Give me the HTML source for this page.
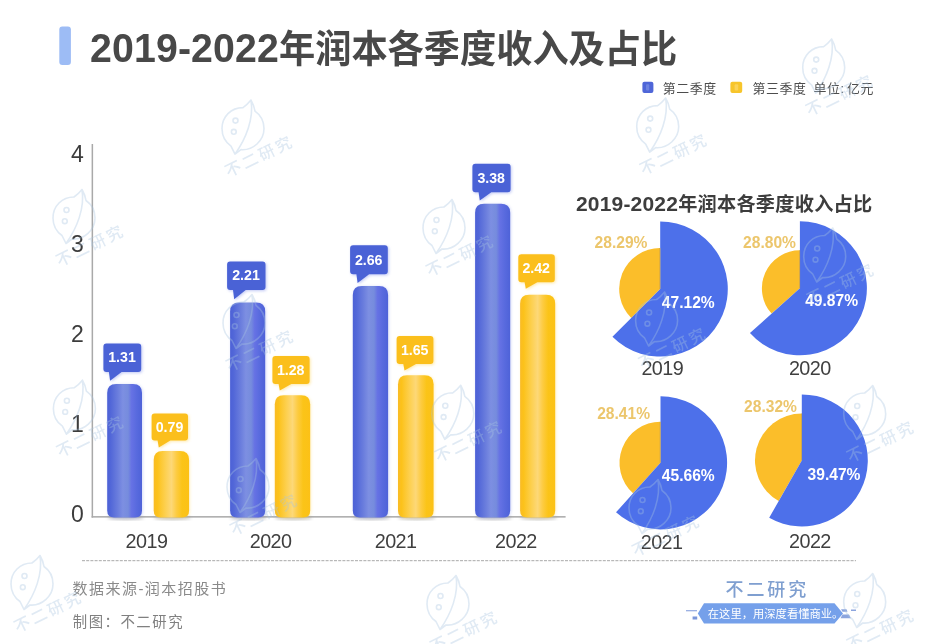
<!DOCTYPE html>
<html lang="zh-CN"><head><meta charset="utf-8"><title>2019-2022年润本各季度收入及占比</title>
<style>
html,body{margin:0;padding:0;background:#fff;}
body{width:940px;height:644px;overflow:hidden;position:relative;font-family:'Liberation Sans','Noto Sans CJK SC',sans-serif;}
svg{display:block;position:absolute;left:0;top:0;}
text{font-family:'Liberation Sans','Noto Sans CJK SC',sans-serif;}
.b{font-weight:bold;}
</style></head><body>
<svg width="940" height="644" viewBox="0 0 940 644">
<defs>
<linearGradient id="gb" x1="0" y1="0" x2="1" y2="0">
<stop offset="0" stop-color="#4c61d6"/><stop offset="0.1" stop-color="#5267d8"/><stop offset="0.3" stop-color="#6a7ddd"/><stop offset="0.45" stop-color="#7d8fe2"/><stop offset="0.6" stop-color="#768cdd"/><stop offset="0.7" stop-color="#6672e4"/><stop offset="0.85" stop-color="#586ade"/><stop offset="1" stop-color="#4e62d8"/>
</linearGradient>
<linearGradient id="gy" x1="0" y1="0" x2="1" y2="0">
<stop offset="0" stop-color="#f9bb26"/><stop offset="0.1" stop-color="#fcc21a"/><stop offset="0.33" stop-color="#fdd050"/><stop offset="0.5" stop-color="#fdd878"/><stop offset="0.65" stop-color="#fdcb40"/><stop offset="0.8" stop-color="#fbc418"/><stop offset="1" stop-color="#fcc116"/>
</linearGradient>
<filter id="gl" x="-30%" y="-10%" width="160%" height="120%"><feGaussianBlur stdDeviation="1.4"/></filter>
<filter id="sh" x="-30%" y="-10%" width="160%" height="120%"><feGaussianBlur stdDeviation="1.6"/></filter>
</defs>
<rect width="940" height="644" fill="#ffffff"/>

<rect x="59.3" y="26.6" width="11.6" height="38.5" rx="3" fill="#9dbcf5"/>
<text class="b" transform="translate(90,61.7) scale(0.958,1)" font-size="37.8" fill="#484848"><tspan font-size="41" letter-spacing="0.15">2019-2022</tspan>年润本各季度收入及占比</text>
<rect x="642.4" y="81.8" width="11" height="11.2" rx="2" fill="#4f66d8"/>
<rect x="646" y="84.2" width="3.2" height="6.4" rx="1" fill="#7388e2" opacity="0.85"/>
<text x="662.8" y="92.6" font-size="12.9" letter-spacing="0.6" fill="#4d4d4d">第二季度</text>
<rect x="730.4" y="81.8" width="11.8" height="11.2" rx="2" fill="#f7c52b"/>
<rect x="734.6" y="84.2" width="3.6" height="6.4" rx="1" fill="#fbd45e" opacity="0.9"/>
<text x="752.6" y="92.6" font-size="12.9" letter-spacing="0.6" fill="#4d4d4d">第三季度 <tspan x="813.6">单位:</tspan> <tspan x="847">亿元</tspan></text>
<rect x="91.6" y="144" width="1.5" height="373.6" fill="#a9a9a9"/>
<rect x="91.6" y="516.1" width="474" height="1.5" fill="#a9a9a9"/>
<text x="77.5" y="161.6" font-size="23" fill="#3c3c3c" text-anchor="middle">4</text>
<text x="77.5" y="251.6" font-size="23" fill="#3c3c3c" text-anchor="middle">3</text>
<text x="77.5" y="341.6" font-size="23" fill="#3c3c3c" text-anchor="middle">2</text>
<text x="77.5" y="431.6" font-size="23" fill="#3c3c3c" text-anchor="middle">1</text>
<text x="77.5" y="521.6" font-size="23" fill="#3c3c3c" text-anchor="middle">0</text>
<ellipse cx="125.6" cy="518.0" rx="18.4" ry="2.2" fill="#8f8f8f" opacity="0.45" filter="url(#sh)"/>
<path d="M107.2,510.5 V392.9 Q107.2,383.9 116.2,383.9 H133.0 Q142.0,383.9 142.0,392.9 V510.5 Q142.0,517.5 135.0,517.5 H114.2 Q107.2,517.5 107.2,510.5 Z" fill="#7f90ea" opacity="0.35" filter="url(#gl)" transform="translate(0.8,0.5)"/>
<path d="M107.2,510.5 V392.9 Q107.2,383.9 116.2,383.9 H133.0 Q142.0,383.9 142.0,392.9 V510.5 Q142.0,517.5 135.0,517.5 H114.2 Q107.2,517.5 107.2,510.5 Z" fill="url(#gb)"/>
<path d="M106.4,343.4 H138.2 Q141.2,343.4 141.2,346.4 V369.0 Q141.2,372.0 138.2,372.0 H121.6 L110.1,380.7 L108.9,372.0 H106.4 Q103.4,372.0 103.4,369.0 V346.4 Q103.4,343.4 106.4,343.4 Z" fill="#8f9cec" opacity="0.55" filter="url(#gl)" transform="translate(1,1)"/>
<path d="M106.4,343.4 H138.2 Q141.2,343.4 141.2,346.4 V369.0 Q141.2,372.0 138.2,372.0 H121.6 L110.1,380.7 L108.9,372.0 H106.4 Q103.4,372.0 103.4,369.0 V346.4 Q103.4,343.4 106.4,343.4 Z" fill="#4a62d6"/>
<text class="b" x="122.0" y="362.4" font-size="14.2" fill="#ffffff" text-anchor="middle">1.31</text>
<ellipse cx="172.4" cy="518.0" rx="18.7" ry="2.2" fill="#8f8f8f" opacity="0.45" filter="url(#sh)"/>
<path d="M153.7,510.5 V460.0 Q153.7,451.0 162.7,451.0 H180.1 Q189.1,451.0 189.1,460.0 V510.5 Q189.1,517.5 182.1,517.5 H160.7 Q153.7,517.5 153.7,510.5 Z" fill="#fdd455" opacity="0.35" filter="url(#gl)" transform="translate(0.8,0.5)"/>
<path d="M153.7,510.5 V460.0 Q153.7,451.0 162.7,451.0 H180.1 Q189.1,451.0 189.1,460.0 V510.5 Q189.1,517.5 182.1,517.5 H160.7 Q153.7,517.5 153.7,510.5 Z" fill="url(#gy)"/>
<path d="M154.6,413.4 H185.0 Q188.0,413.4 188.0,416.4 V437.6 Q188.0,440.6 185.0,440.6 H170.3 L158.8,447.6 L157.6,440.6 H154.6 Q151.6,440.6 151.6,437.6 V416.4 Q151.6,413.4 154.6,413.4 Z" fill="#fdd866" opacity="0.55" filter="url(#gl)" transform="translate(1,1)"/>
<path d="M154.6,413.4 H185.0 Q188.0,413.4 188.0,416.4 V437.6 Q188.0,440.6 185.0,440.6 H170.3 L158.8,447.6 L157.6,440.6 H154.6 Q151.6,440.6 151.6,437.6 V416.4 Q151.6,413.4 154.6,413.4 Z" fill="#fbbf1c"/>
<text class="b" x="169.5" y="431.7" font-size="14.2" fill="#ffffff" text-anchor="middle">0.79</text>
<ellipse cx="248.6" cy="518.0" rx="18.5" ry="2.2" fill="#8f8f8f" opacity="0.45" filter="url(#sh)"/>
<path d="M230.1,510.5 V311.4 Q230.1,302.4 239.1,302.4 H256.2 Q265.2,302.4 265.2,311.4 V510.5 Q265.2,517.5 258.2,517.5 H237.1 Q230.1,517.5 230.1,510.5 Z" fill="#7f90ea" opacity="0.35" filter="url(#gl)" transform="translate(0.8,0.5)"/>
<path d="M230.1,510.5 V311.4 Q230.1,302.4 239.1,302.4 H256.2 Q265.2,302.4 265.2,311.4 V510.5 Q265.2,517.5 258.2,517.5 H237.1 Q230.1,517.5 230.1,510.5 Z" fill="url(#gb)"/>
<path d="M230.1,261.4 H262.5 Q265.5,261.4 265.5,264.4 V286.9 Q265.5,289.9 262.5,289.9 H245.7 L234.2,299.3 L233.0,289.9 H230.1 Q227.1,289.9 227.1,286.9 V264.4 Q227.1,261.4 230.1,261.4 Z" fill="#8f9cec" opacity="0.55" filter="url(#gl)" transform="translate(1,1)"/>
<path d="M230.1,261.4 H262.5 Q265.5,261.4 265.5,264.4 V286.9 Q265.5,289.9 262.5,289.9 H245.7 L234.2,299.3 L233.0,289.9 H230.1 Q227.1,289.9 227.1,286.9 V264.4 Q227.1,261.4 230.1,261.4 Z" fill="#4a62d6"/>
<text class="b" x="246.0" y="280.3" font-size="14.2" fill="#ffffff" text-anchor="middle">2.21</text>
<ellipse cx="293.5" cy="518.0" rx="18.7" ry="2.2" fill="#8f8f8f" opacity="0.45" filter="url(#sh)"/>
<path d="M274.8,510.5 V404.2 Q274.8,395.2 283.8,395.2 H301.2 Q310.2,395.2 310.2,404.2 V510.5 Q310.2,517.5 303.2,517.5 H281.8 Q274.8,517.5 274.8,510.5 Z" fill="#fdd455" opacity="0.35" filter="url(#gl)" transform="translate(0.8,0.5)"/>
<path d="M274.8,510.5 V404.2 Q274.8,395.2 283.8,395.2 H301.2 Q310.2,395.2 310.2,404.2 V510.5 Q310.2,517.5 303.2,517.5 H281.8 Q274.8,517.5 274.8,510.5 Z" fill="url(#gy)"/>
<path d="M275.4,356.1 H306.6 Q309.6,356.1 309.6,359.1 V381.0 Q309.6,384.0 306.6,384.0 H291.3 L279.8,390.6 L278.6,384.0 H275.4 Q272.4,384.0 272.4,381.0 V359.1 Q272.4,356.1 275.4,356.1 Z" fill="#fdd866" opacity="0.55" filter="url(#gl)" transform="translate(1,1)"/>
<path d="M275.4,356.1 H306.6 Q309.6,356.1 309.6,359.1 V381.0 Q309.6,384.0 306.6,384.0 H291.3 L279.8,390.6 L278.6,384.0 H275.4 Q272.4,384.0 272.4,381.0 V359.1 Q272.4,356.1 275.4,356.1 Z" fill="#fbbf1c"/>
<text class="b" x="290.7" y="374.8" font-size="14.2" fill="#ffffff" text-anchor="middle">1.28</text>
<ellipse cx="371.5" cy="518.0" rx="18.7" ry="2.2" fill="#8f8f8f" opacity="0.45" filter="url(#sh)"/>
<path d="M352.8,510.5 V295.0 Q352.8,286.0 361.8,286.0 H379.1 Q388.1,286.0 388.1,295.0 V510.5 Q388.1,517.5 381.1,517.5 H359.8 Q352.8,517.5 352.8,510.5 Z" fill="#7f90ea" opacity="0.35" filter="url(#gl)" transform="translate(0.8,0.5)"/>
<path d="M352.8,510.5 V295.0 Q352.8,286.0 361.8,286.0 H379.1 Q388.1,286.0 388.1,295.0 V510.5 Q388.1,517.5 381.1,517.5 H359.8 Q352.8,517.5 352.8,510.5 Z" fill="url(#gb)"/>
<path d="M353.1,245.3 H384.8 Q387.8,245.3 387.8,248.3 V271.3 Q387.8,274.3 384.8,274.3 H369.1 L357.6,283.1 L356.4,274.3 H353.1 Q350.1,274.3 350.1,271.3 V248.3 Q350.1,245.3 353.1,245.3 Z" fill="#8f9cec" opacity="0.55" filter="url(#gl)" transform="translate(1,1)"/>
<path d="M353.1,245.3 H384.8 Q387.8,245.3 387.8,248.3 V271.3 Q387.8,274.3 384.8,274.3 H369.1 L357.6,283.1 L356.4,274.3 H353.1 Q350.1,274.3 350.1,271.3 V248.3 Q350.1,245.3 353.1,245.3 Z" fill="#4a62d6"/>
<text class="b" x="368.7" y="264.5" font-size="14.2" fill="#ffffff" text-anchor="middle">2.66</text>
<ellipse cx="416.8" cy="518.0" rx="18.8" ry="2.2" fill="#8f8f8f" opacity="0.45" filter="url(#sh)"/>
<path d="M398.0,510.5 V384.2 Q398.0,375.2 407.0,375.2 H424.6 Q433.6,375.2 433.6,384.2 V510.5 Q433.6,517.5 426.6,517.5 H405.0 Q398.0,517.5 398.0,510.5 Z" fill="#fdd455" opacity="0.35" filter="url(#gl)" transform="translate(0.8,0.5)"/>
<path d="M398.0,510.5 V384.2 Q398.0,375.2 407.0,375.2 H424.6 Q433.6,375.2 433.6,384.2 V510.5 Q433.6,517.5 426.6,517.5 H405.0 Q398.0,517.5 398.0,510.5 Z" fill="url(#gy)"/>
<path d="M399.6,336.1 H430.4 Q433.4,336.1 433.4,339.1 V361.0 Q433.4,364.0 430.4,364.0 H416.0 L404.5,370.6 L403.3,364.0 H399.6 Q396.6,364.0 396.6,361.0 V339.1 Q396.6,336.1 399.6,336.1 Z" fill="#fdd866" opacity="0.55" filter="url(#gl)" transform="translate(1,1)"/>
<path d="M399.6,336.1 H430.4 Q433.4,336.1 433.4,339.1 V361.0 Q433.4,364.0 430.4,364.0 H416.0 L404.5,370.6 L403.3,364.0 H399.6 Q396.6,364.0 396.6,361.0 V339.1 Q396.6,336.1 399.6,336.1 Z" fill="#fbbf1c"/>
<text class="b" x="414.7" y="354.8" font-size="14.2" fill="#ffffff" text-anchor="middle">1.65</text>
<ellipse cx="493.6" cy="518.0" rx="18.5" ry="2.2" fill="#8f8f8f" opacity="0.45" filter="url(#sh)"/>
<path d="M475.1,510.5 V212.7 Q475.1,203.7 484.1,203.7 H501.2 Q510.2,203.7 510.2,212.7 V510.5 Q510.2,517.5 503.2,517.5 H482.1 Q475.1,517.5 475.1,510.5 Z" fill="#7f90ea" opacity="0.35" filter="url(#gl)" transform="translate(0.8,0.5)"/>
<path d="M475.1,510.5 V212.7 Q475.1,203.7 484.1,203.7 H501.2 Q510.2,203.7 510.2,212.7 V510.5 Q510.2,517.5 503.2,517.5 H482.1 Q475.1,517.5 475.1,510.5 Z" fill="url(#gb)"/>
<path d="M475.4,163.7 H507.6 Q510.6,163.7 510.6,166.7 V189.2 Q510.6,192.2 507.6,192.2 H491.3 L479.8,200.6 L478.6,192.2 H475.4 Q472.4,192.2 472.4,189.2 V166.7 Q472.4,163.7 475.4,163.7 Z" fill="#8f9cec" opacity="0.55" filter="url(#gl)" transform="translate(1,1)"/>
<path d="M475.4,163.7 H507.6 Q510.6,163.7 510.6,166.7 V189.2 Q510.6,192.2 507.6,192.2 H491.3 L479.8,200.6 L478.6,192.2 H475.4 Q472.4,192.2 472.4,189.2 V166.7 Q472.4,163.7 475.4,163.7 Z" fill="#4a62d6"/>
<text class="b" x="491.2" y="182.6" font-size="14.2" fill="#ffffff" text-anchor="middle">3.38</text>
<ellipse cx="538.7" cy="518.0" rx="18.6" ry="2.2" fill="#8f8f8f" opacity="0.45" filter="url(#sh)"/>
<path d="M520.1,510.5 V303.7 Q520.1,294.7 529.1,294.7 H546.2 Q555.2,294.7 555.2,303.7 V510.5 Q555.2,517.5 548.2,517.5 H527.1 Q520.1,517.5 520.1,510.5 Z" fill="#fdd455" opacity="0.35" filter="url(#gl)" transform="translate(0.8,0.5)"/>
<path d="M520.1,510.5 V303.7 Q520.1,294.7 529.1,294.7 H546.2 Q555.2,294.7 555.2,303.7 V510.5 Q555.2,517.5 548.2,517.5 H527.1 Q520.1,517.5 520.1,510.5 Z" fill="url(#gy)"/>
<path d="M521.3,254.2 H551.8 Q554.8,254.2 554.8,257.2 V279.2 Q554.8,282.2 551.8,282.2 H537.3 L525.8,288.7 L524.6,282.2 H521.3 Q518.3,282.2 518.3,279.2 V257.2 Q518.3,254.2 521.3,254.2 Z" fill="#fdd866" opacity="0.55" filter="url(#gl)" transform="translate(1,1)"/>
<path d="M521.3,254.2 H551.8 Q554.8,254.2 554.8,257.2 V279.2 Q554.8,282.2 551.8,282.2 H537.3 L525.8,288.7 L524.6,282.2 H521.3 Q518.3,282.2 518.3,279.2 V257.2 Q518.3,254.2 521.3,254.2 Z" fill="#fbbf1c"/>
<text class="b" x="536.2" y="272.9" font-size="14.2" fill="#ffffff" text-anchor="middle">2.42</text>
<text x="146.5" y="547.8" font-size="19.8" letter-spacing="-0.55" fill="#3f3f3f" text-anchor="middle">2019</text>
<text x="270.6" y="547.8" font-size="19.8" letter-spacing="-0.55" fill="#3f3f3f" text-anchor="middle">2020</text>
<text x="395.6" y="547.8" font-size="19.8" letter-spacing="-0.55" fill="#3f3f3f" text-anchor="middle">2021</text>
<text x="515.9" y="547.8" font-size="19.8" letter-spacing="-0.55" fill="#3f3f3f" text-anchor="middle">2022</text>
<line x1="82" y1="560.7" x2="856" y2="560.7" stroke="#a8a8a8" stroke-width="1" stroke-dasharray="3 1.2"/>
<text x="72.6" y="594.3" font-size="15" fill="#8a8a8a" letter-spacing="1.45">数据来源-润本招股书</text>
<text x="72.8" y="626.5" font-size="14.4" fill="#808080" letter-spacing="1.5">制图：不二研究</text>
<text class="b" x="575.9" y="210.6" font-size="19.2" fill="#3d3d3d" letter-spacing="0.25"><tspan font-size="21" letter-spacing="0.2">2019-2022</tspan>年润本各季度收入占比</text>
<path d="M660.20,289.00 L631.24,318.02 A41.00,41.00 0 0 1 660.20,248.00 Z" fill="#fbbe2a"/>
<path d="M660.20,289.00 L660.20,221.40 A67.60,67.60 0 1 1 612.44,336.85 Z" fill="#4d70ea"/>
<line x1="659.9" y1="248.0" x2="659.9" y2="289.0" stroke="#c9a24a" stroke-width="1" opacity="0.8"/>
<text class="b" x="621.0" y="247.5" font-size="15.6" fill="#ecc66c" text-anchor="middle">28.29%</text>
<text class="b" x="688.3" y="307.6" font-size="15.6" fill="#ffffff" text-anchor="middle">47.12%</text>
<text x="662.3" y="375.2" font-size="19.8" letter-spacing="-0.55" fill="#3f3f3f" text-anchor="middle">2019</text>
<path d="M799.90,288.30 L771.57,313.62 A38.00,38.00 0 0 1 799.90,250.30 Z" fill="#fbbe2a"/>
<path d="M799.90,288.30 L799.90,221.30 A67.00,67.00 0 1 1 749.95,332.95 Z" fill="#4d70ea"/>
<line x1="799.6" y1="250.3" x2="799.6" y2="288.3" stroke="#c9a24a" stroke-width="1" opacity="0.8"/>
<text class="b" x="769.5" y="247.5" font-size="15.6" fill="#ecc66c" text-anchor="middle">28.80%</text>
<text class="b" x="831.6" y="306.2" font-size="15.6" fill="#ffffff" text-anchor="middle">49.87%</text>
<text x="809.8" y="375.2" font-size="19.8" letter-spacing="-0.55" fill="#3f3f3f" text-anchor="middle">2020</text>
<path d="M660.50,462.80 L633.11,493.31 A41.00,41.00 0 0 1 660.50,421.80 Z" fill="#fbbe2a"/>
<path d="M660.50,462.80 L660.50,396.20 A66.60,66.60 0 1 1 616.01,512.36 Z" fill="#4d70ea"/>
<line x1="660.2" y1="421.8" x2="660.2" y2="462.8" stroke="#c9a24a" stroke-width="1" opacity="0.8"/>
<text class="b" x="623.6" y="419.0" font-size="15.6" fill="#ecc66c" text-anchor="middle">28.41%</text>
<text class="b" x="688.3" y="481.0" font-size="15.6" fill="#ffffff" text-anchor="middle">45.66%</text>
<text x="661.6" y="548.7" font-size="19.8" letter-spacing="-0.55" fill="#3f3f3f" text-anchor="middle">2021</text>
<path d="M801.80,460.40 L778.68,501.09 A46.80,46.80 0 0 1 801.80,413.60 Z" fill="#fbbe2a"/>
<path d="M801.80,460.40 L801.80,394.40 A66.00,66.00 0 1 1 769.19,517.78 Z" fill="#4d70ea"/>
<line x1="801.5" y1="413.6" x2="801.5" y2="460.4" stroke="#c9a24a" stroke-width="1" opacity="0.8"/>
<text class="b" x="770.5" y="412.0" font-size="15.6" fill="#ecc66c" text-anchor="middle">28.32%</text>
<text class="b" x="834.0" y="480.0" font-size="15.6" fill="#ffffff" text-anchor="middle">39.47%</text>
<text x="809.9" y="547.9" font-size="19.8" letter-spacing="-0.55" fill="#3f3f3f" text-anchor="middle">2022</text>
<text x="725.5" y="595.6" font-size="18" font-weight="500" fill="#7f9fd0" letter-spacing="2.9">不二研究</text>
<path d="M686,610.2 h11 v1 h-11 z M692.6,616.4 h4.6 v3 h-4.6 z" fill="#6485d3" opacity="0.85"/>
<path d="M841,609.2 h5.5 l1,2.6 h-5 z M842.5,614.6 h6.5 l1.8,3.6 h-10.3 z M851,609.6 h5 v1.4 h-5 z" fill="#6f8fd6" opacity="0.8"/>
<path d="M704,603.2 H834.5 L843,613.4 L834.5,623.6 H704 L697.8,613.4 Z" fill="#75a0ea"/>
<text x="707.8" y="617.8" font-size="11.3" fill="#ffffff">在这里，用深度看懂商业。</text>
<g opacity="0.36" fill="none" stroke="#a8c4e0" stroke-width="1.6" stroke-linecap="round" stroke-linejoin="round">
<g transform="translate(243.0,128.6)">
<path d="M0,-21 C-12,-21 -21,-12 -21,0 C-21,8 -17,14 -12,17.5 L-8,25.5 L-2,21 C10,22 21,12 21,0 C21,-8 17,-14 12,-17.5 M0,-21 C3,-23 6,-26 8,-28.5 C11,-10 3,10 -8,25.5 M8,-28.5 C10,-25 11.5,-21 12,-17.5"/>
<circle cx="-7.5" cy="-8" r="2.5"/><circle cx="-9.2" cy="3.2" r="2.4"/>
<text x="-14.5" y="49" transform="rotate(-26 -14.5 49)" font-size="16" font-weight="500" letter-spacing="2.6" fill="#a8c4e0" stroke="none">不二研究</text></g>
<g transform="translate(657.7,126.6)">
<path d="M0,-21 C-12,-21 -21,-12 -21,0 C-21,8 -17,14 -12,17.5 L-8,25.5 L-2,21 C10,22 21,12 21,0 C21,-8 17,-14 12,-17.5 M0,-21 C3,-23 6,-26 8,-28.5 C11,-10 3,10 -8,25.5 M8,-28.5 C10,-25 11.5,-21 12,-17.5"/>
<circle cx="-7.5" cy="-8" r="2.5"/><circle cx="-9.2" cy="3.2" r="2.4"/>
<text x="-14.5" y="49" transform="rotate(-26 -14.5 49)" font-size="16" font-weight="500" letter-spacing="2.6" fill="#a8c4e0" stroke="none">不二研究</text></g>
<g transform="translate(823.7,67.6)">
<path d="M0,-21 C-12,-21 -21,-12 -21,0 C-21,8 -17,14 -12,17.5 L-8,25.5 L-2,21 C10,22 21,12 21,0 C21,-8 17,-14 12,-17.5 M0,-21 C3,-23 6,-26 8,-28.5 C11,-10 3,10 -8,25.5 M8,-28.5 C10,-25 11.5,-21 12,-17.5"/>
<circle cx="-7.5" cy="-8" r="2.5"/><circle cx="-9.2" cy="3.2" r="2.4"/>
<text x="-14.5" y="49" transform="rotate(-26 -14.5 49)" font-size="16" font-weight="500" letter-spacing="2.6" fill="#a8c4e0" stroke="none">不二研究</text></g>
<g transform="translate(74.0,218.0)">
<path d="M0,-21 C-12,-21 -21,-12 -21,0 C-21,8 -17,14 -12,17.5 L-8,25.5 L-2,21 C10,22 21,12 21,0 C21,-8 17,-14 12,-17.5 M0,-21 C3,-23 6,-26 8,-28.5 C11,-10 3,10 -8,25.5 M8,-28.5 C10,-25 11.5,-21 12,-17.5"/>
<circle cx="-7.5" cy="-8" r="2.5"/><circle cx="-9.2" cy="3.2" r="2.4"/>
<text x="-14.5" y="49" transform="rotate(-26 -14.5 49)" font-size="16" font-weight="500" letter-spacing="2.6" fill="#a8c4e0" stroke="none">不二研究</text></g>
<g transform="translate(444.0,228.0)">
<path d="M0,-21 C-12,-21 -21,-12 -21,0 C-21,8 -17,14 -12,17.5 L-8,25.5 L-2,21 C10,22 21,12 21,0 C21,-8 17,-14 12,-17.5 M0,-21 C3,-23 6,-26 8,-28.5 C11,-10 3,10 -8,25.5 M8,-28.5 C10,-25 11.5,-21 12,-17.5"/>
<circle cx="-7.5" cy="-8" r="2.5"/><circle cx="-9.2" cy="3.2" r="2.4"/>
<text x="-14.5" y="49" transform="rotate(-26 -14.5 49)" font-size="16" font-weight="500" letter-spacing="2.6" fill="#a8c4e0" stroke="none">不二研究</text></g>
<g transform="translate(824.7,256.5)">
<path d="M0,-21 C-12,-21 -21,-12 -21,0 C-21,8 -17,14 -12,17.5 L-8,25.5 L-2,21 C10,22 21,12 21,0 C21,-8 17,-14 12,-17.5 M0,-21 C3,-23 6,-26 8,-28.5 C11,-10 3,10 -8,25.5 M8,-28.5 C10,-25 11.5,-21 12,-17.5"/>
<circle cx="-7.5" cy="-8" r="2.5"/><circle cx="-9.2" cy="3.2" r="2.4"/>
<text x="-14.5" y="49" transform="rotate(-26 -14.5 49)" font-size="16" font-weight="500" letter-spacing="2.6" fill="#a8c4e0" stroke="none">不二研究</text></g>
<g transform="translate(244.0,323.0)">
<path d="M0,-21 C-12,-21 -21,-12 -21,0 C-21,8 -17,14 -12,17.5 L-8,25.5 L-2,21 C10,22 21,12 21,0 C21,-8 17,-14 12,-17.5 M0,-21 C3,-23 6,-26 8,-28.5 C11,-10 3,10 -8,25.5 M8,-28.5 C10,-25 11.5,-21 12,-17.5"/>
<circle cx="-7.5" cy="-8" r="2.5"/><circle cx="-9.2" cy="3.2" r="2.4"/>
<text x="-14.5" y="49" transform="rotate(-26 -14.5 49)" font-size="16" font-weight="500" letter-spacing="2.6" fill="#a8c4e0" stroke="none">不二研究</text></g>
<g transform="translate(656.6,320.5)">
<path d="M0,-21 C-12,-21 -21,-12 -21,0 C-21,8 -17,14 -12,17.5 L-8,25.5 L-2,21 C10,22 21,12 21,0 C21,-8 17,-14 12,-17.5 M0,-21 C3,-23 6,-26 8,-28.5 C11,-10 3,10 -8,25.5 M8,-28.5 C10,-25 11.5,-21 12,-17.5"/>
<circle cx="-7.5" cy="-8" r="2.5"/><circle cx="-9.2" cy="3.2" r="2.4"/>
<text x="-14.5" y="49" transform="rotate(-26 -14.5 49)" font-size="16" font-weight="500" letter-spacing="2.6" fill="#a8c4e0" stroke="none">不二研究</text></g>
<g transform="translate(74.4,408.7)">
<path d="M0,-21 C-12,-21 -21,-12 -21,0 C-21,8 -17,14 -12,17.5 L-8,25.5 L-2,21 C10,22 21,12 21,0 C21,-8 17,-14 12,-17.5 M0,-21 C3,-23 6,-26 8,-28.5 C11,-10 3,10 -8,25.5 M8,-28.5 C10,-25 11.5,-21 12,-17.5"/>
<circle cx="-7.5" cy="-8" r="2.5"/><circle cx="-9.2" cy="3.2" r="2.4"/>
<text x="-14.5" y="49" transform="rotate(-26 -14.5 49)" font-size="16" font-weight="500" letter-spacing="2.6" fill="#a8c4e0" stroke="none">不二研究</text></g>
<g transform="translate(452.8,413.8)">
<path d="M0,-21 C-12,-21 -21,-12 -21,0 C-21,8 -17,14 -12,17.5 L-8,25.5 L-2,21 C10,22 21,12 21,0 C21,-8 17,-14 12,-17.5 M0,-21 C3,-23 6,-26 8,-28.5 C11,-10 3,10 -8,25.5 M8,-28.5 C10,-25 11.5,-21 12,-17.5"/>
<circle cx="-7.5" cy="-8" r="2.5"/><circle cx="-9.2" cy="3.2" r="2.4"/>
<text x="-14.5" y="49" transform="rotate(-26 -14.5 49)" font-size="16" font-weight="500" letter-spacing="2.6" fill="#a8c4e0" stroke="none">不二研究</text></g>
<g transform="translate(864.7,414.0)">
<path d="M0,-21 C-12,-21 -21,-12 -21,0 C-21,8 -17,14 -12,17.5 L-8,25.5 L-2,21 C10,22 21,12 21,0 C21,-8 17,-14 12,-17.5 M0,-21 C3,-23 6,-26 8,-28.5 C11,-10 3,10 -8,25.5 M8,-28.5 C10,-25 11.5,-21 12,-17.5"/>
<circle cx="-7.5" cy="-8" r="2.5"/><circle cx="-9.2" cy="3.2" r="2.4"/>
<text x="-14.5" y="49" transform="rotate(-26 -14.5 49)" font-size="16" font-weight="500" letter-spacing="2.6" fill="#a8c4e0" stroke="none">不二研究</text></g>
<g transform="translate(248.0,487.0)">
<path d="M0,-21 C-12,-21 -21,-12 -21,0 C-21,8 -17,14 -12,17.5 L-8,25.5 L-2,21 C10,22 21,12 21,0 C21,-8 17,-14 12,-17.5 M0,-21 C3,-23 6,-26 8,-28.5 C11,-10 3,10 -8,25.5 M8,-28.5 C10,-25 11.5,-21 12,-17.5"/>
<circle cx="-7.5" cy="-8" r="2.5"/><circle cx="-9.2" cy="3.2" r="2.4"/>
<text x="-14.5" y="49" transform="rotate(-26 -14.5 49)" font-size="16" font-weight="500" letter-spacing="2.6" fill="#a8c4e0" stroke="none">不二研究</text></g>
<g transform="translate(650.0,508.0)">
<path d="M0,-21 C-12,-21 -21,-12 -21,0 C-21,8 -17,14 -12,17.5 L-8,25.5 L-2,21 C10,22 21,12 21,0 C21,-8 17,-14 12,-17.5 M0,-21 C3,-23 6,-26 8,-28.5 C11,-10 3,10 -8,25.5 M8,-28.5 C10,-25 11.5,-21 12,-17.5"/>
<circle cx="-7.5" cy="-8" r="2.5"/><circle cx="-9.2" cy="3.2" r="2.4"/>
<text x="-14.5" y="49" transform="rotate(-26 -14.5 49)" font-size="16" font-weight="500" letter-spacing="2.6" fill="#a8c4e0" stroke="none">不二研究</text></g>
<g transform="translate(32.0,584.0)">
<path d="M0,-21 C-12,-21 -21,-12 -21,0 C-21,8 -17,14 -12,17.5 L-8,25.5 L-2,21 C10,22 21,12 21,0 C21,-8 17,-14 12,-17.5 M0,-21 C3,-23 6,-26 8,-28.5 C11,-10 3,10 -8,25.5 M8,-28.5 C10,-25 11.5,-21 12,-17.5"/>
<circle cx="-7.5" cy="-8" r="2.5"/><circle cx="-9.2" cy="3.2" r="2.4"/>
<text x="-14.5" y="49" transform="rotate(-26 -14.5 49)" font-size="16" font-weight="500" letter-spacing="2.6" fill="#a8c4e0" stroke="none">不二研究</text></g>
<g transform="translate(448.0,604.0)">
<path d="M0,-21 C-12,-21 -21,-12 -21,0 C-21,8 -17,14 -12,17.5 L-8,25.5 L-2,21 C10,22 21,12 21,0 C21,-8 17,-14 12,-17.5 M0,-21 C3,-23 6,-26 8,-28.5 C11,-10 3,10 -8,25.5 M8,-28.5 C10,-25 11.5,-21 12,-17.5"/>
<circle cx="-7.5" cy="-8" r="2.5"/><circle cx="-9.2" cy="3.2" r="2.4"/>
<text x="-14.5" y="49" transform="rotate(-26 -14.5 49)" font-size="16" font-weight="500" letter-spacing="2.6" fill="#a8c4e0" stroke="none">不二研究</text></g>
<g transform="translate(864.7,602.0)">
<path d="M0,-21 C-12,-21 -21,-12 -21,0 C-21,8 -17,14 -12,17.5 L-8,25.5 L-2,21 C10,22 21,12 21,0 C21,-8 17,-14 12,-17.5 M0,-21 C3,-23 6,-26 8,-28.5 C11,-10 3,10 -8,25.5 M8,-28.5 C10,-25 11.5,-21 12,-17.5"/>
<circle cx="-7.5" cy="-8" r="2.5"/><circle cx="-9.2" cy="3.2" r="2.4"/>
<text x="-14.5" y="49" transform="rotate(-26 -14.5 49)" font-size="16" font-weight="500" letter-spacing="2.6" fill="#a8c4e0" stroke="none">不二研究</text></g>
</g>
</svg></body></html>
